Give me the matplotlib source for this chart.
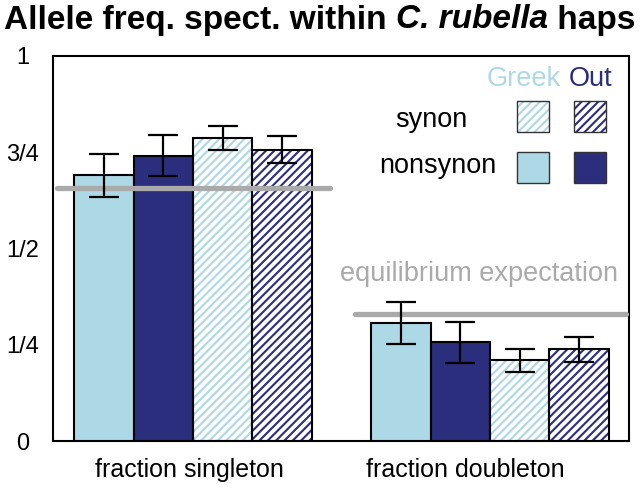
import matplotlib
matplotlib.use("Agg")
import matplotlib.pyplot as plt
from matplotlib.patches import Rectangle
import matplotlib.transforms as mtransforms

plt.rcParams['font.family'] = ['Liberation Sans', 'DejaVu Sans']
plt.rcParams['hatch.linewidth'] = 1.5

categories = ["fraction singleton", "fraction doubleton"]
series = ["Greek nonsynon", "Out nonsynon", "Greek synon", "Out synon"]
values = {
    "Greek nonsynon": [0.690, 0.306],
    "Out nonsynon":   [0.741, 0.256],
    "Greek synon":    [0.786, 0.210],
    "Out synon":      [0.757, 0.238],
}
errors = {
    "Greek nonsynon": [0.055, 0.054],
    "Out nonsynon":   [0.053, 0.053],
    "Greek synon":    [0.031, 0.030],
    "Out synon":      [0.034, 0.032],
}
equilibrium = [0.658, 0.330]
yticks = [0, 0.25, 0.5, 0.75, 1]
yticklabels = ["0", "1/4", "1/2", "3/4", "1"]
title_parts = ["Allele freq. spect. within ", "C. rubella", " haps"]

light = "#add8e6"
navy = "#2b2d7d"
styles = {
    "Greek nonsynon": dict(color=light, hatch=None),
    "Out nonsynon":   dict(color=navy, hatch=None),
    "Greek synon":    dict(color=light, hatch="////"),
    "Out synon":      dict(color=navy, hatch="////"),
}

fig = plt.figure(figsize=(6.4, 4.95), dpi=100)
ax = fig.add_axes([53/640, 1-441/495, (629-53)/640, (441-56)/495])

w = 0.2
offsets = [-1.5*w, -0.5*w, 0.5*w, 1.5*w]
for s, off in zip(series, offsets):
    st = styles[s]
    xs = [i + off for i in range(len(categories))]
    if st["hatch"]:
        ax.bar(xs, values[s], width=w, facecolor="white", edgecolor=st["color"],
               hatch=st["hatch"], linewidth=0, zorder=2)
        ax.bar(xs, values[s], width=w, facecolor="none", edgecolor="black",
               linewidth=1.5, zorder=3)
    else:
        ax.bar(xs, values[s], width=w, facecolor=st["color"], edgecolor="black",
               linewidth=1.5, zorder=3)
    ax.errorbar(xs, values[s], yerr=errors[s], fmt="none", ecolor="black",
                elinewidth=1.6, capsize=11, capthick=1.6, zorder=5)

eq_spans = [(-0.458, 0.461), (0.545, 1.458)]
for (x0, x1), e in zip(eq_spans, equilibrium):
    ax.plot([x0, x1], [e, e], color="#aaaaaa", lw=3.8, solid_capstyle="round", zorder=4)
ax.text(0.963, 0.434, "equilibrium expectation", color="#aaaaaa", fontsize=19.5,
        ha="center", va="center")

ax.set_xlim(-0.471, 1.468)
ax.set_ylim(0, 1)
ax.set_yticks(yticks)
ax.set_yticklabels(yticklabels, fontsize=17, ha="center")
ax.tick_params(axis="y", length=0, pad=22)
ax.set_xticks([])
for sp in ax.spines.values():
    sp.set_linewidth(1.5)

# category labels below axes
trans = mtransforms.blended_transform_factory(ax.transData, fig.transFigure)
label_x = [-0.013, 0.916]
for lx, c in zip(label_x, categories):
    ax.text(lx, 1-470/495, c, transform=trans, ha="center", va="center", fontsize=18)

# legend grid
ax.text(1.238, 0.94, "Greek", color=light, fontsize=19.5, ha="right", va="center")
ax.text(1.266, 0.94, "Out", color=navy, fontsize=19.5, ha="left", va="center")
ax.text(0.803, 0.834, "synon", fontsize=19.5, ha="center", va="center")
ax.text(0.825, 0.714, "nonsynon", fontsize=19.5, ha="center", va="center")
pw = 32/297
ph = 31/385
legend_cells = [(1.091, 0.803, "Greek synon"), (1.283, 0.803, "Out synon"),
                (1.091, 0.670, "Greek nonsynon"), (1.283, 0.670, "Out nonsynon")]
for px, py, s in legend_cells:
    st = styles[s]
    if st["hatch"]:
        ax.add_patch(Rectangle((px, py), pw, ph, facecolor="white", edgecolor=st["color"],
                               hatch=st["hatch"], linewidth=0, zorder=3))
        ax.add_patch(Rectangle((px, py), pw, ph, facecolor="none", edgecolor="#333333",
                               linewidth=1.0, zorder=4))
    else:
        ax.add_patch(Rectangle((px, py), pw, ph, facecolor=st["color"], edgecolor="#333333",
                               linewidth=1.0, zorder=4))

# title assembled from pieces (regular bold, bold italic, regular bold)
renderer = fig.canvas.get_renderer()
tstyles = ["normal", "italic", "normal"]
texts = []
for part, sty in zip(title_parts, tstyles):
    t = fig.text(0, 1-20/495, part, ha="left", va="center", fontsize=24,
                 fontweight="bold", fontstyle=sty)
    texts.append(t)
widths = [t.get_window_extent(renderer).width for t in texts]
total = sum(widths)
x = (640 - total) / 2
for t, wd in zip(texts, widths):
    t.set_x(x / 640)
    x += wd

fig.savefig("out.png", dpi=100)
